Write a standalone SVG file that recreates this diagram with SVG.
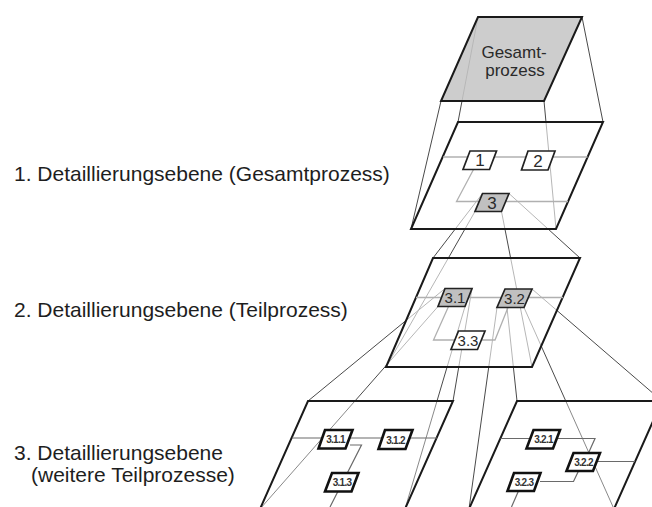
<svg xmlns="http://www.w3.org/2000/svg" width="652" height="507" viewBox="0 0 652 507">
<style>
.lbl{font-family:"Liberation Sans",Arial,sans-serif;font-size:21px;fill:#1e1e1e}
.fr{stroke:#4a4a4a;stroke-width:1;fill:none}
.plane{fill:#fff;fill-opacity:0.6;stroke:#1a1a1a;stroke-width:2;stroke-linejoin:miter}
.plane3{fill:#fff;fill-opacity:0.35;stroke:#1a1a1a;stroke-width:2;stroke-linejoin:miter}
.con{stroke:#b0b0b0;stroke-width:1.3;fill:none}
.con3{stroke:#6a6a6a;stroke-width:1.2;fill:none}
.nw{fill:#fff;stroke:#222;stroke-width:1.7}
.ng{fill:#c0c0c0;stroke:#222;stroke-width:1.7}
.n3{fill:#fff;stroke:#111;stroke-width:2.6}
.t1{font-family:"Liberation Sans",Arial,sans-serif;font-size:17px;fill:#2a2a2a;text-anchor:middle}
.t2{font-family:"Liberation Sans",Arial,sans-serif;font-size:15px;fill:#2a2a2a;text-anchor:middle}
.t3{font-family:"Liberation Sans",Arial,sans-serif;font-size:10px;font-weight:bold;fill:#333;text-anchor:middle;letter-spacing:-0.7px}
</style>
<rect width="652" height="507" fill="#fff"/>
<g id="labels">
<text class="lbl" x="14" y="181">1. Detaillierungsebene (Gesamtprozess)</text>
<text class="lbl" x="14" y="317">2. Detaillierungsebene (Teilprozess)</text>
<text class="lbl" x="14" y="460">3. Detaillierungsebene</text>
<text class="lbl" x="31" y="482">(weitere Teilprozesse)</text>
</g>
<g id="connectors">
<line class="fr" x1="478" y1="17" x2="458" y2="122"/>
<line class="fr" x1="582" y1="17" x2="603" y2="122"/>
<line class="fr" x1="544" y1="101" x2="556" y2="229"/>
<line class="fr" x1="441" y1="101" x2="411" y2="229"/>
<line class="fr" x1="482.5" y1="193.5" x2="433" y2="258"/>
<line class="fr" x1="509" y1="193.5" x2="580" y2="258"/>
<line class="fr" x1="501.5" y1="211.5" x2="532" y2="367"/>
<line class="fr" x1="475" y1="211.5" x2="386" y2="367"/>
<line class="fr" x1="445" y1="288.5" x2="308" y2="401"/>
<line class="fr" x1="472" y1="288.5" x2="453" y2="401"/>
<line class="fr" x1="465" y1="306.5" x2="405" y2="509"/>
<line class="fr" x1="438" y1="306.5" x2="260" y2="509"/>
<line class="fr" x1="505" y1="289" x2="517" y2="401"/>
<line class="fr" x1="532" y1="289" x2="662" y2="401"/>
<line class="fr" x1="524" y1="307.5" x2="614" y2="509"/>
<line class="fr" x1="497" y1="307.5" x2="469" y2="509"/>
</g>
<g id="planes">
<polygon class="plane" points="458,122 603,122 556,229 411,229"/>
<polygon class="plane" points="433,258 580,258 532,367 386,367"/>
<polygon class="plane3" points="308,401 453,401 405,509 260,509"/>
<polygon class="plane3" points="517,401 662,401 614,509 469,509"/>
</g>
<g id="inner-connectors">
<line class="con" x1="443" y1="157" x2="587.5" y2="157"/>
<polyline class="con" points="473.5,169.5 456.5,201.5 568,201.5"/>
<line class="con" x1="416" y1="297.5" x2="563" y2="297.5"/>
<polyline class="con" points="448.5,306.5 433.5,340 495,340 508,307.5"/>
<line class="con3" x1="292" y1="438" x2="437" y2="438"/>
<polyline class="con3" points="350,445 361.5,445 330,507"/>
<polyline class="con3" points="500.5,438.5 595,438.5 588.5,453"/>
<line class="con3" x1="597" y1="461.5" x2="635" y2="461.5"/>
<polyline class="con3" points="578.5,471 573.5,481.5 540,481.5"/>
<line class="con3" x1="518.5" y1="491" x2="511.5" y2="507"/>
</g>
<g id="gesamtprozess">
<polygon points="478,17 582,17 544,101 441,101" fill="#c6c6c6" fill-opacity="0.88" stroke="#1a1a1a" stroke-width="2"/>
<text class="t1" x="514" y="58">Gesamt-</text>
<text class="t1" x="515" y="76">prozess</text>
</g>
<g id="n1"><polygon class="nw" points="470,151 496.5,151 489.5,169.5 463,169.5"/><text class="t1" x="480" y="166">1</text></g>
<g id="n2"><polygon class="nw" points="528,151 555,151 548,170 521.5,170"/><text class="t1" x="538" y="166.5">2</text></g>
<g id="n3"><polygon class="ng" points="482.5,193.5 509,193.5 501.5,211.5 475,211.5"/><text class="t1" x="492" y="208.5">3</text></g>
<g id="n3-1"><polygon class="ng" points="445,288.5 472,288.5 465,306.5 438,306.5"/><text class="t2" x="455" y="303">3.1</text></g>
<g id="n3-2"><polygon class="ng" points="505,289 532,289 524,307.5 497,307.5"/><text class="t2" x="514.5" y="303.5">3.2</text></g>
<g id="n3-3"><polygon class="nw" points="458.5,331 485,331 477.5,349.5 451,349.5"/><text class="t2" x="468" y="345.5">3.3</text></g>
<g id="n3-1-1"><polygon class="n3" points="325,430 352.5,430 345.5,448.5 318.5,448.5"/><text class="t3" x="335.5" y="443">3.1.1</text></g>
<g id="n3-1-2"><polygon class="n3" points="385,430 412.5,430 405.5,449 378.5,449"/><text class="t3" x="395.5" y="443.5">3.1.2</text></g>
<g id="n3-1-3"><polygon class="n3" points="332,473 358.5,473 351.5,491.5 325,491.5"/><text class="t3" x="342" y="486">3.1.3</text></g>
<g id="n3-2-1"><polygon class="n3" points="533.5,430 560,430 553,448.5 526.5,448.5"/><text class="t3" x="543.5" y="443">3.2.1</text></g>
<g id="n3-2-2"><polygon class="n3" points="573.5,453 600,453 593,471 566.5,471"/><text class="t3" x="583.5" y="466">3.2.2</text></g>
<g id="n3-2-3"><polygon class="n3" points="514,473 540.5,473 534,491 507.5,491"/><text class="t3" x="524" y="486">3.2.3</text></g>
</svg>
